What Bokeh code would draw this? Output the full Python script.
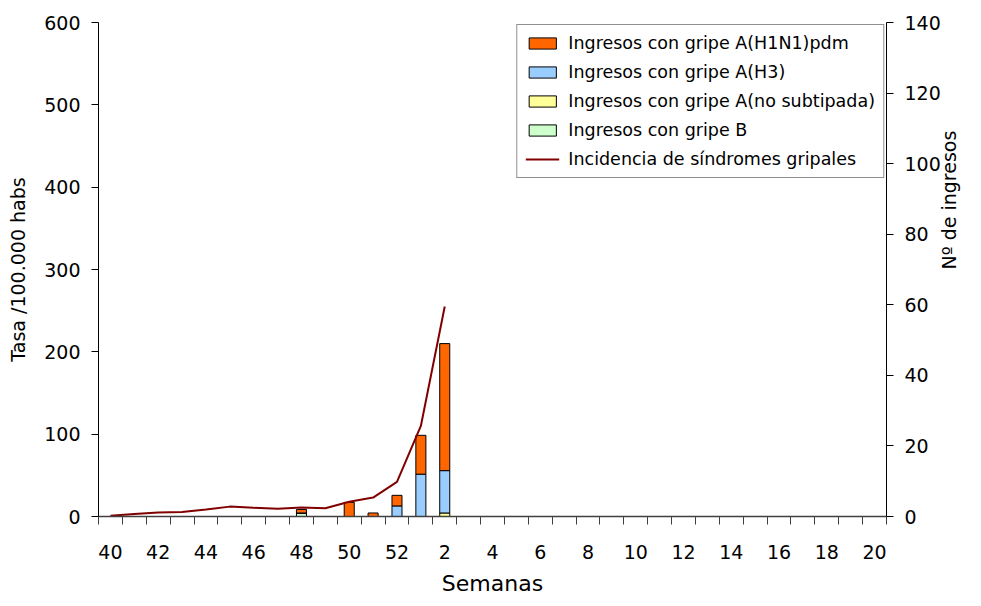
import math
from bokeh.plotting import figure
from bokeh.models import Range1d, LinearAxis, FixedTicker, Legend, LegendItem, ColumnDataSource
from bokeh.embed import file_html
from bokeh.resources import INLINE

# ---- data ----
weeks = ["40", "41", "42", "43", "44", "45", "46", "47", "48", "49", "50", "51", "52",
         "1", "2", "3", "4", "5", "6", "7", "8", "9", "10", "11", "12", "13", "14",
         "15", "16", "17", "18", "19", "20"]

gripe_b       = [0, 0, 0, 0, 0, 0, 0, 0, 1, 0, 0, 0, 0, 0, 0, 0, 0,
                 0, 0, 0, 0, 0, 0, 0, 0, 0, 0, 0, 0, 0, 0, 0, 0]
gripe_a_nosub = [0, 0, 0, 0, 0, 0, 0, 0, 0, 0, 0, 0, 0, 0, 1, 0, 0,
                 0, 0, 0, 0, 0, 0, 0, 0, 0, 0, 0, 0, 0, 0, 0, 0]
gripe_a_h3    = [0, 0, 0, 0, 0, 0, 0, 0, 0, 0, 0, 0, 3, 12, 12, 0, 0,
                 0, 0, 0, 0, 0, 0, 0, 0, 0, 0, 0, 0, 0, 0, 0, 0]
gripe_a_h1n1  = [0, 0, 0, 0, 0, 0, 0, 0, 1, 0, 4, 1, 3, 11, 36, 0, 0,
                 0, 0, 0, 0, 0, 0, 0, 0, 0, 0, 0, 0, 0, 0, 0, 0]

# incidence of flu syndromes (rate /100.000), weeks 40 .. 2
incidencia = [1, 3, 5, 5.5, 8.5, 12, 10.5, 9.5, 11, 10, 18, 23, 42, 110, 255]

left_ticks = [0, 100, 200, 300, 400, 500, 600]
right_ticks = [0, 20, 40, 60, 80, 100, 120, 140]

series_labels = ["Ingresos con gripe A(H1N1)pdm", "Ingresos con gripe A(H3)",
                 "Ingresos con gripe A(no subtipada)", "Ingresos con gripe B"]
line_label = "Incidencia de síndromes gripales"

# ---- chart ----
FONT = "DejaVu Sans"
x = [i + 0.5 for i in range(len(weeks))]

p = figure(width=973, height=598, x_range=Range1d(0, len(weeks)), y_range=Range1d(0, 600),
           output_backend="svg", toolbar_location=None,
           min_border_left=98, min_border_right=87, min_border_top=22, min_border_bottom=82)
p.extra_y_ranges = {"right": Range1d(0, 140)}
p.xgrid.visible = False
p.ygrid.visible = False
p.outline_line_color = None
p.background_fill_color = "white"

src = ColumnDataSource(dict(x=x, b=gripe_b, ns=gripe_a_nosub, h3=gripe_a_h3, h1=gripe_a_h1n1))
bars = p.vbar_stack(["b", "ns", "h3", "h1"], x="x", width=0.42, source=src,
                    fill_color=["#CCFFCC", "#FFFF99", "#99CCFF", "#FF6600"],
                    line_color="black", line_width=1, y_range_name="right")

ln = p.line(x[:len(incidencia)], incidencia, line_color="#800000", line_width=2)

# x axis
xa = p.xaxis[0]
xa.ticker = FixedTicker(ticks=[x[i] for i in range(0, len(weeks), 2)],
                        minor_ticks=list(range(0, len(weeks) + 1)))
xa.major_label_overrides = {x[i]: weeks[i] for i in range(0, len(weeks), 2)}
xa.major_tick_out = 0
xa.major_tick_in = 0
xa.minor_tick_out = 8
xa.minor_tick_in = 0
xa.minor_tick_line_color = "#404040"
xa.axis_line_color = "#404040"
xa.axis_line_width = 1.5
xa.major_label_standoff = 20
xa.axis_label = "Semanas"
xa.axis_label_standoff = 9
xa.axis_label_text_font_size = "22px"

# left axis
ya = p.yaxis[0]
ya.ticker = FixedTicker(ticks=left_ticks)
ya.axis_label = "Tasa /100.000 habs"
ya.major_tick_out = 7
ya.major_tick_in = 0
ya.minor_tick_out = 0
ya.minor_tick_in = 0
ya.major_label_standoff = 11
ya.axis_label_standoff = 12

# right axis
ra = LinearAxis(y_range_name="right", ticker=FixedTicker(ticks=right_ticks),
                axis_label="Nº de ingresos")
ra.major_tick_out = 7
ra.major_tick_in = 0
ra.minor_tick_out = 0
ra.minor_tick_in = 0
ra.major_label_standoff = 11
ra.axis_label_standoff = 5
ra.axis_label_orientation = math.pi / 2
p.add_layout(ra, "right")

for ax in [xa, ya, ra]:
    ax.major_label_text_font = FONT
    ax.major_label_text_font_size = "19px"
    ax.major_label_text_color = "black"
    ax.axis_label_text_font = FONT
    ax.axis_label_text_font_style = "normal"
    ax.axis_label_text_color = "black"
for ax in [ya, ra]:
    ax.axis_label_text_font_size = "19px"
    ax.axis_line_color = "black"
    ax.major_tick_line_color = "black"

# legend
items = [LegendItem(label=series_labels[0], renderers=[bars[3]]),
         LegendItem(label=series_labels[1], renderers=[bars[2]]),
         LegendItem(label=series_labels[2], renderers=[bars[1]]),
         LegendItem(label=series_labels[3], renderers=[bars[0]]),
         LegendItem(label=line_label, renderers=[ln])]
leg = Legend(items=items, location="top_right", margin=2, padding=8, spacing=9,
             glyph_width=34, glyph_height=14, label_height=20, label_standoff=9,
             label_text_font=FONT, label_text_font_size="17.5px", label_text_color="black",
             border_line_color="#202020", border_line_width=1,
             background_fill_color="white", background_fill_alpha=1.0)
p.add_layout(leg)

open("out.html", "w").write(file_html(p, INLINE))
